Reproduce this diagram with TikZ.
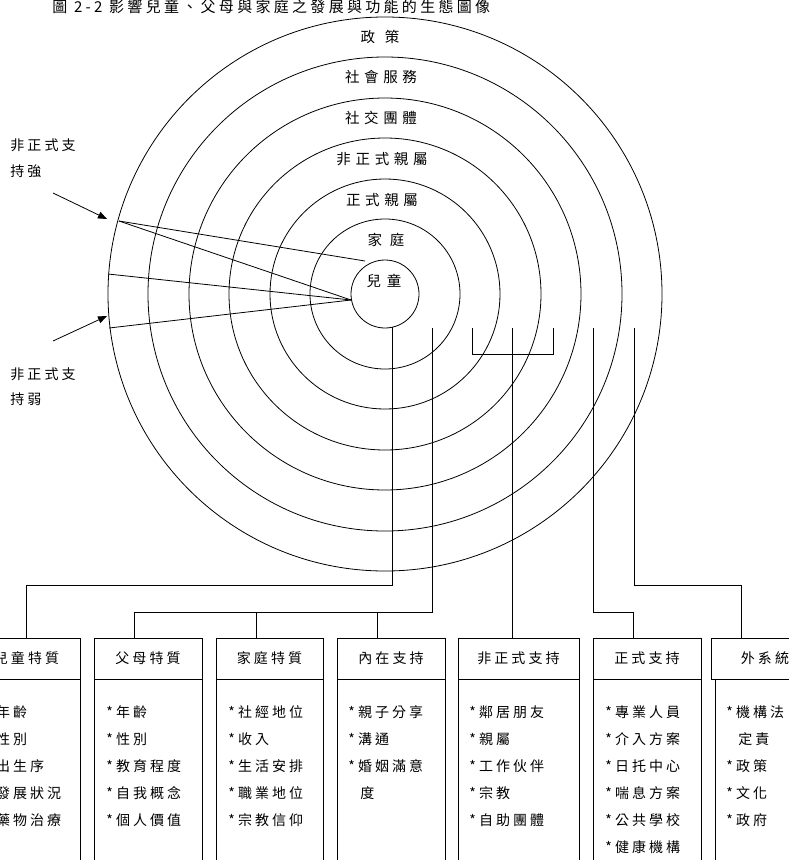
\documentclass[tikz,border=0pt]{standalone}
\usepackage{fontspec}
\newfontfamily\cjk[LetterSpace=22]{Noto Sans CJK TC}
\newfontfamily\cjkwide[LetterSpace=32]{Noto Sans CJK TC}
\usetikzlibrary{arrows.meta}
\begin{document}
\begin{tikzpicture}[x=1pt,y=-1pt,line width=0.8pt,
  lbl/.style={font=\cjk\fontsize{14}{16}\selectfont,inner sep=0pt},
  ringlbl/.style={font=\cjkwide\fontsize{14.5}{16}\selectfont,inner sep=0pt},
  ttl/.style={font=\cjk\fontsize{15}{17}\selectfont,inner sep=0pt},
  hbox/.style={draw,rectangle,minimum height=41pt,inner sep=0pt,font=\cjk\fontsize{14}{16}\selectfont},
  bbox/.style={draw,rectangle,minimum height=201pt,inner sep=0pt},
  item/.style={lbl,anchor=west},
  arr/.style={-{Triangle[length=9pt,width=7pt]}}]
\path[use as bounding box] (0,0) rectangle (789,860);
\clip (0,0) rectangle (789,860);
% title
\node[ttl,anchor=base west] (title) at (52,12) {圖 2-2 影響兒童、父母與家庭之發展與功能的生態圖像};
% circles
\coordinate (c) at (385,294);
\foreach \r in {34,75,115,156,196,237,277} \draw (c) circle[radius=\r];
% ring labels
\node[ringlbl] (lpol) at (380,37) {政\hspace{10pt}策};
\node[ringlbl] (lsoc) at (381,77) {社會服務};
\node[ringlbl] (lgrp) at (381,118) {社交團體};
\node[ringlbl] (linf) at (382,159) {非正式親屬};
\node[ringlbl] (lfor) at (382,200) {正式親屬};
\node[ringlbl] (lfam) at (386,240) {家\hspace{8pt}庭};
\node[ringlbl] (lchi) at (384,281) {兒\hspace{6pt}童};
% support lines
\coordinate (p1) at (119,221);
\coordinate (p2) at (108,274);
\coordinate (p3) at (109,328);
\coordinate (q1) at (365,261);
\coordinate (q0) at (351,300);
\draw (p1) -- (q1);
\draw (p1) -- (q0);
\draw (p2) -- (q0);
\draw (p3) -- (q0);
% left labels and arrows
\node[lbl,anchor=west] (ls1) at (10,145) {非正式支};
\node[lbl,anchor=west] (ls2) at (10,171) {持強};
\node[lbl,anchor=west] (lw1) at (10,374) {非正式支};
\node[lbl,anchor=west] (lw2) at (10,399) {持弱};
\coordinate (a1s) at (53,193);
\coordinate (a1e) at (107,219);
\coordinate (a2s) at (53,341);
\coordinate (a2e) at (107,316);
\draw[arr] (a1s) -- (a1e);
\draw[arr] (a2s) -- (a2e);
% boxes
\node[hbox,minimum width=107pt] (h1) at (26.5,658.5) {兒童特質};
\node[hbox,minimum width=108pt] (h2) at (148,658.5) {父母特質};
\node[hbox,minimum width=107pt] (h3) at (269.5,658.5) {家庭特質};
\node[hbox,minimum width=108pt] (h4) at (391,658.5) {內在支持};
\node[hbox,minimum width=121pt] (h5) at (518.5,658.5) {非正式支持};
\node[hbox,minimum width=108pt] (h6) at (647,658.5) {正式支持};
\node[hbox,minimum width=108pt] (h7) at (765,658.5) {外系統};
\foreach \i/\w in {1/107,2/108,3/107,4/108,5/121,6/108}
  \node[bbox,minimum width=\w pt,anchor=north] (b\i) at (h\i.south) {};
\node[bbox,minimum width=108pt,anchor=north west] (b7) at (715,679) {};
% items
\foreach \t [count=\k] in {*年齡,*性別,*出生序,*發展狀況,*藥物治療}
  \node[item] (i1-\k) at (-14,712+27*\k-27) {\t};
\foreach \t [count=\k] in {*年齡,*性別,*教育程度,*自我概念,*個人價值}
  \node[item] (i2-\k) at (106,712+27*\k-27) {\t};
\foreach \t [count=\k] in {*社經地位,*收入,*生活安排,*職業地位,*宗教信仰}
  \node[item] (i3-\k) at (228,712+27*\k-27) {\t};
\foreach \t [count=\k] in {*親子分享,*溝通,*婚姻滿意,\hspace{12pt}度}
  \node[item] (i4-\k) at (348,712+27*\k-27) {\t};
\foreach \t [count=\k] in {*鄰居朋友,*親屬,*工作伙伴,*宗教,*自助團體}
  \node[item] (i5-\k) at (469,712+27*\k-27) {\t};
\foreach \t [count=\k] in {*專業人員,*介入方案,*日托中心,*喘息方案,*公共學校,*健康機構}
  \node[item] (i6-\k) at (605,712+27*\k-27) {\t};
\foreach \t [count=\k] in {*機構法,\hspace{12pt}定責,*政策,*文化,*政府}
  \node[item] (i7-\k) at (726,712+27*\k-27) {\t};
% connectors
\coordinate (s1) at (392,327);
\coordinate (t1) at (392,585);
\draw (s1) -- (t1) -| (h1.north);
\coordinate (s2) at (432,328);
\coordinate (t2) at (432,612);
\coordinate (k2) at (134,612);
\draw (s2) -- (t2) -- (k2) -- (k2 |- h2.north);
\coordinate (k3) at (256,612);
\draw (k3) -- (k3 |- h3.north);
\coordinate (k4) at (377,612);
\draw (k4) -- (k4 |- h4.north);
\coordinate (s5a) at (472,328);
\coordinate (q5a) at (472,354);
\coordinate (q5b) at (553,354);
\coordinate (s5b) at (553,328);
\draw (s5a) -- (q5a) -- (q5b) -- (s5b);
\coordinate (s5) at (512,328);
\draw (s5) -- (s5 |- h5.north);
\coordinate (s6) at (593,328);
\coordinate (t6) at (593,612);
\coordinate (k6) at (633,612);
\draw (s6) -- (t6) -- (k6) -- (k6 |- h6.north);
\coordinate (s7) at (634,328);
\coordinate (t7) at (634,585);
\coordinate (k7) at (741,585);
\draw (s7) -- (t7) -- (k7) -- (k7 |- h7.north);
\end{tikzpicture}
\end{document}
